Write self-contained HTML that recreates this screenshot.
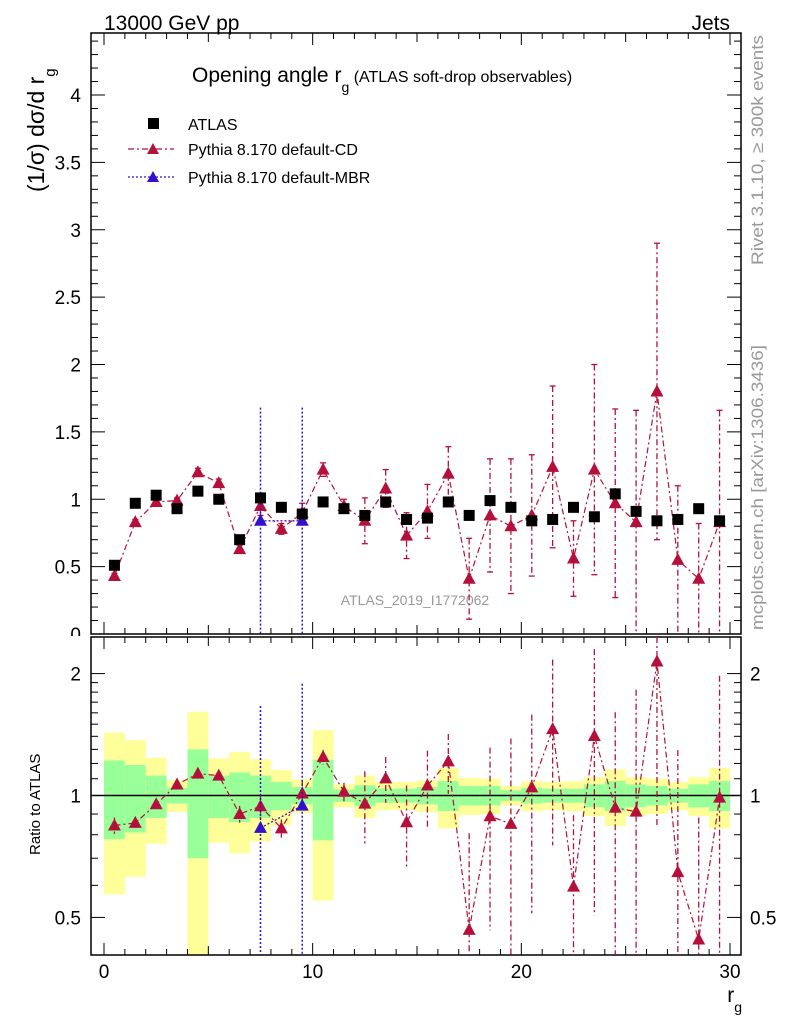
<!DOCTYPE html>
<html><head><meta charset="utf-8"><style>
html,body{margin:0;padding:0;background:#fff;}
svg{display:block;font-family:"Liberation Sans",sans-serif;}
</style></head><body>
<svg id="c" width="786" height="1024" viewBox="0 0 786 1024" xmlns="http://www.w3.org/2000/svg">
<text x="104" y="30" font-size="21">13000 GeV pp</text>
<text x="730" y="30" font-size="21" text-anchor="end">Jets</text>
<text x="192" y="82" font-size="21">Opening angle r<tspan font-size="14" dy="10">g</tspan><tspan font-size="16" dy="-10"> (ATLAS soft-drop observables)</tspan></text>
<text transform="translate(44,192) rotate(-90)" font-size="23">(1/σ) dσ/d r<tspan font-size="15" dy="11">g</tspan></text>
<text transform="translate(40,855) rotate(-90)" font-size="15">Ratio to ATLAS</text>
<text x="742" y="1002" font-size="21" text-anchor="end">r<tspan font-size="14" dy="10">g</tspan></text>
<text transform="translate(763,265) rotate(-90)" font-size="17" fill="#999" textLength="230" lengthAdjust="spacingAndGlyphs">Rivet 3.1.10, ≥ 300k events</text>
<text transform="translate(763,630) rotate(-90)" font-size="17" fill="#999" textLength="285" lengthAdjust="spacingAndGlyphs">mcplots.cern.ch [arXiv:1306.3436]</text>
<text x="415" y="605" font-size="14" fill="#999" text-anchor="middle">ATLAS_2019_I1772062</text>
<g>
<rect x="148" y="118" width="11" height="11" fill="#000"/>
<text x="188" y="130" font-size="16">ATLAS</text>
<line x1="128" y1="149" x2="174" y2="149" stroke="#b5103c" stroke-width="1.2" stroke-dasharray="6,3,2,3"/>
<path d="M153,143 L159,154 L147,154 Z" fill="#b5103c"/>
<text x="188" y="155" font-size="16">Pythia 8.170 default-CD</text>
<line x1="128" y1="177" x2="174" y2="177" stroke="#3311cc" stroke-width="1.2" stroke-dasharray="2,2"/>
<path d="M153,171 L159,182 L147,182 Z" fill="#3311cc"/>
<text x="188" y="183" font-size="16">Pythia 8.170 default-MBR</text>
</g>
<g id="plot"></g>
</svg>
<script>
const centers=[0.5,1.5,2.5,3.5,4.5,5.5,6.5,7.5,8.5,9.5,10.5,11.5,12.5,13.5,14.5,15.5,16.5,17.5,18.5,19.5,20.5,21.5,22.5,23.5,24.5,25.5,26.5,27.5,28.5,29.5];
const atlas=[0.51,0.97,1.03,0.93,1.06,1.0,0.70,1.01,0.94,0.89,0.98,0.93,0.88,0.98,0.85,0.86,0.98,0.88,0.99,0.94,0.84,0.85,0.94,0.87,1.04,0.91,0.84,0.85,0.93,0.84];
const statRel=[0.22,0.19,0.12,0.045,0.30,0.12,0.14,0.12,0.08,0.05,0.225,0.035,0.06,0.04,0.04,0.05,0.085,0.055,0.055,0.03,0.045,0.04,0.04,0.065,0.085,0.065,0.055,0.04,0.065,0.085];
const totRel=[0.43,0.37,0.24,0.09,0.61,0.235,0.28,0.23,0.155,0.095,0.45,0.065,0.12,0.08,0.08,0.09,0.17,0.105,0.10,0.055,0.085,0.08,0.085,0.11,0.16,0.11,0.10,0.08,0.11,0.17];
const cd=[0.43,0.83,0.98,0.99,1.20,1.12,0.63,0.95,0.78,0.90,1.22,0.95,0.84,1.08,0.73,0.91,1.19,0.41,0.88,0.80,0.88,1.24,0.56,1.22,0.97,0.83,1.80,0.55,0.41,0.83];
const cdErr=[0.02,0.02,0.02,0.02,0.03,0.03,0.03,0.07,0.04,0.07,0.05,0.05,0.17,0.14,0.17,0.2,0.2,0.3,0.42,0.5,0.45,0.6,0.28,0.78,0.7,0.83,1.1,0.55,0.41,0.83];
const mbrX=[7.5,9.5];
const mbr=[0.84,0.84];
const mbrErr=[0.84,0.84];
const yTicks=[0,0.5,1,1.5,2,2.5,3,3.5,4];
const yTickLabels=["0","0.5","1","1.5","2","2.5","3","3.5","4"];
const rTicks=[0.5,1,2];
const rTickLabels=["0.5","1","2"];
const xTicks=[0,10,20,30];
const xTickLabels=["0","10","20","30"];

const NS="http://www.w3.org/2000/svg";
const g=document.getElementById('plot');
const L=91,R=741,T=33,MB=634,RT=637,RB=955;
const X=v=>104+v*(730-104)/30;
const Y=v=>634-v*134.75;
const RY=v=>795.5-Math.log10(v)*405;
const RED="#b5103c",BLUE="#3311cc";
function el(tag,attrs,parent){const e=document.createElementNS(NS,tag);for(const k in attrs)e.setAttribute(k,attrs[k]);(parent||g).appendChild(e);return e;}
const clampM=y=>Math.max(T,Math.min(MB,y));
const clampR=y=>Math.max(RT,Math.min(RB,y));
function tri(x,y,c){return el('path',{d:`M${x},${y-7} L${x+6.5},${y+5} L${x-6.5},${y+5} Z`,fill:c});}

// main y labels (drawn first so ratio panel covers the bottom of "0")
yTicks.forEach((v,i)=>{const t=el('text',{x:81,y:Y(v)+7,"font-size":19,"text-anchor":"end"});t.textContent=yTickLabels[i];

});
const cover=el('rect',{x:0,y:636,width:90,height:10,fill:"#fff"});



// ratio bands
for(let i=0;i<centers.length;i++){
  const x0=X(centers[i]-0.5),x1=X(centers[i]+0.5);
  const yb=el('rect',{x:x0,y:clampR(RY(1+totRel[i])),width:x1-x0,height:clampR(RY(1-totRel[i]))-clampR(RY(1+totRel[i])),fill:"#ffff99"});
  
  
  const gb=el('rect',{x:x0,y:RY(1+statRel[i]),width:x1-x0,height:RY(1-statRel[i])-RY(1+statRel[i]),fill:"#99ff99"});
  
  
}
const one=el('line',{x1:L,y1:RY(1),x2:R,y2:RY(1),stroke:"#000","stroke-width":1.5});



for(const [t,b,n] of [[T,MB,'main-frame'],[RT,RB,'ratio-frame']]){
  const f=el('rect',{x:L,y:t,width:R-L,height:b-t,fill:"none",stroke:"#000","stroke-width":1.5});
  
  
}
for(let v=0;v<=30;v++){
  const len=v%10===0?12:(v%5===0?9:6);
  for(const [t,b] of [[T,MB],[RT,RB]]){
    el('line',{x1:X(v),y1:b,x2:X(v),y2:b-len,stroke:"#000","stroke-width":1});
    el('line',{x1:X(v),y1:t,x2:X(v),y2:t+len,stroke:"#000","stroke-width":1});
  }
}
xTicks.forEach((v,i)=>{const t=el('text',{x:X(v),y:978,"font-size":19,"text-anchor":"middle"});t.textContent=xTickLabels[i];

});
for(let k=0;k<=44;k++){const v=k/10;const len=k%5===0?14:7;const y=Y(v);if(y<T)continue;
  el('line',{x1:L,y1:y,x2:L+len,y2:y,stroke:"#000"});el('line',{x1:R,y1:y,x2:R-len,y2:y,stroke:"#000"});}
[0.5,0.6,0.7,0.8,0.9,1,1.1,1.2,1.3,1.4,1.5,1.6,1.7,1.8,1.9,2].forEach(v=>{const len=rTicks.includes(v)?14:7;const y=RY(v);
  el('line',{x1:L,y1:y,x2:L+len,y2:y,stroke:"#000"});el('line',{x1:R,y1:y,x2:R-len,y2:y,stroke:"#000"});});
rTicks.forEach((v,i)=>{
  const t=el('text',{x:81,y:RY(v)+7,"font-size":19,"text-anchor":"end"});t.textContent=rTickLabels[i];
  
  
  const t2=el('text',{x:750,y:RY(v)+7,"font-size":19});t2.textContent=rTickLabels[i];
  
  
});

let pts=centers.map((c,i)=>`${X(c)},${Y(cd[i])}`).join(' ');
const cdl=el('polyline',{points:pts,fill:"none",stroke:RED,"stroke-width":1.2,"stroke-dasharray":"6,3,2,3"});


let rpts=centers.map((c,i)=>`${X(c)},${clampR(RY(cd[i]/atlas[i]))}`).join(' ');
const cdr=el('polyline',{points:rpts,fill:"none",stroke:RED,"stroke-width":1.2,"stroke-dasharray":"6,3,2,3"});


centers.forEach((c,i)=>{
  const x=X(c);
  const e=el('line',{x1:x,y1:clampM(Y(cd[i]+cdErr[i])),x2:x,y2:clampM(Y(cd[i]-cdErr[i])),stroke:RED,"stroke-width":1.3,"stroke-dasharray":"6,3,2,3"});
  
  
  const r=cd[i]/atlas[i],re=cdErr[i]/atlas[i];
  const lo=r-re>0.05?RY(r-re):RB;
  const e2=el('line',{x1:x,y1:clampR(RY(r+re)),x2:x,y2:clampR(lo),stroke:RED,"stroke-width":1.3,"stroke-dasharray":"6,3,2,3"});
  
  
  for(const yy of [Y(cd[i]+cdErr[i]),Y(cd[i]-cdErr[i])]) if(yy>T&&yy<MB) el('line',{x1:x-3,y1:yy,x2:x+3,y2:yy,stroke:RED,"stroke-width":1.3});
  const m=tri(x,Y(cd[i]),RED);
  
  
  const ry=RY(r);
  if(ry>RT&&ry<RB){const m2=tri(x,ry,RED);
  
  }
});
const mbl=el('polyline',{points:mbrX.map((c,i)=>`${X(c)},${Y(mbr[i])}`).join(' '),fill:"none",stroke:BLUE,"stroke-width":1.3,"stroke-dasharray":"2,2"});


const mbrl=el('polyline',{points:mbrX.map((c,i)=>`${X(c)},${RY(mbr[i]/atlas[centers.indexOf(c)])}`).join(' '),fill:"none",stroke:BLUE,"stroke-width":1.3,"stroke-dasharray":"2,2"});


mbrX.forEach((c,i)=>{
  const x=X(c),a=atlas[centers.indexOf(c)];
  const e=el('line',{x1:x,y1:Y(mbr[i]+mbrErr[i]),x2:x,y2:clampM(Y(mbr[i]-mbrErr[i])),stroke:BLUE,"stroke-width":1.5,"stroke-dasharray":"2,2"});
  
  
  const e2=el('line',{x1:x,y1:clampR(RY((mbr[i]+mbrErr[i])/a)),x2:x,y2:RB,stroke:BLUE,"stroke-width":1.5,"stroke-dasharray":"2,2"});
  
  
  const m=tri(x,Y(mbr[i]),BLUE);
  
  
  const m2=tri(x,RY(mbr[i]/a),BLUE);
  
  
});
centers.forEach((c,i)=>{
  const m=el('rect',{x:X(c)-5.5,y:Y(atlas[i])-5.5,width:11,height:11,fill:"#000"});
  
  
});
</script>
</body></html>
